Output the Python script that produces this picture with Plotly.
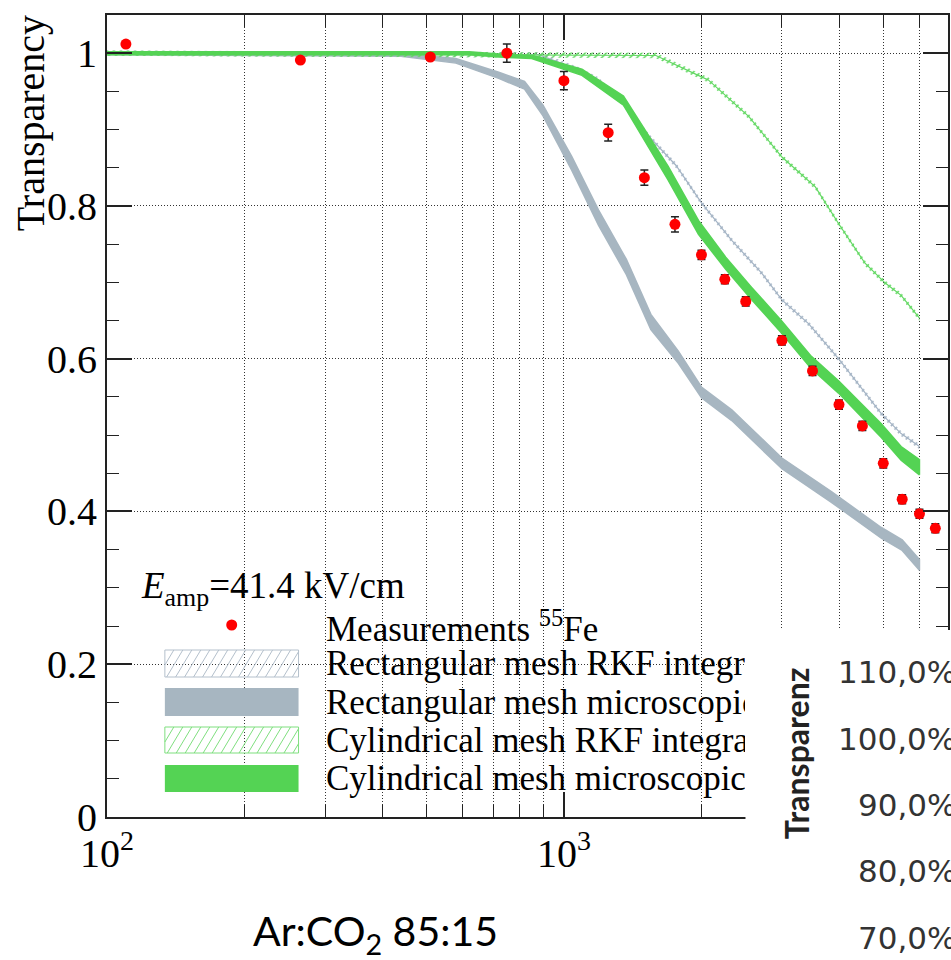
import plotly.graph_objects as go

# ---------------- data ----------------
meas_x = [110, 265, 510, 750, 1000, 1250, 1500, 1750, 2000, 2250, 2500, 3000,
          3500, 4000, 4500, 5000, 5500, 6000, 6500]
meas_y = [1.012, 0.991, 0.995, 1.000, 0.964, 0.896, 0.837, 0.776, 0.736, 0.704,
          0.675, 0.624, 0.584, 0.540, 0.512, 0.463, 0.416, 0.397, 0.378]
meas_err = [0, 0, 0, 0.012, 0.012, 0.011, 0.010, 0.010, 0.006, 0.006, 0.006, 0.006,
            0.006, 0.006, 0.006, 0.006, 0.006, 0.006, 0.006]

rect_micro_x = [100, 440, 580, 720, 820, 900, 1040, 1190, 1370, 1550, 1780, 2000,
                2330, 3000, 3850, 4950, 5500, 6000]
rect_micro_y = [1.0, 0.998, 0.99, 0.971, 0.958, 0.925, 0.856, 0.785, 0.72, 0.648,
                0.602, 0.556, 0.526, 0.463, 0.419, 0.372, 0.356, 0.330]
rect_micro_err = [0.002, 0.002, 0.003, 0.004, 0.005, 0.007, 0.009, 0.010, 0.010, 0.010,
                  0.008, 0.007, 0.007, 0.007, 0.007, 0.007, 0.007, 0.007]

cyl_micro_x = [100, 620, 720, 850, 895, 1095, 1350, 1480, 1690, 1970, 2260, 2570,
               3000, 3480, 3990, 4950, 5470, 6000]
cyl_micro_y = [1.0, 1.0, 0.997, 0.995, 0.991, 0.975, 0.938, 0.899, 0.843, 0.772,
               0.725, 0.686, 0.641, 0.595, 0.563, 0.506, 0.476, 0.458]
cyl_micro_err = [0.002, 0.002, 0.002, 0.002, 0.003, 0.004, 0.006, 0.008, 0.009, 0.009,
                 0.008, 0.008, 0.008, 0.008, 0.008, 0.009, 0.009, 0.010]

rect_rkf_x = [100, 880, 1080, 1190, 1350, 1530, 1760, 2000, 2330, 2710, 3000, 3430,
              3990, 4950, 5470, 6000]
rect_rkf_y = [1.0, 0.998, 0.978, 0.965, 0.934, 0.892, 0.853, 0.804, 0.755, 0.712,
              0.677, 0.646, 0.600, 0.528, 0.502, 0.485]

cyl_rkf_x = [100, 1590, 2000, 2070, 2540, 3000, 3550, 3990, 4560, 5050, 5470, 6000]
cyl_rkf_y = [1.0, 0.997, 0.969, 0.965, 0.917, 0.864, 0.825, 0.777, 0.725, 0.699,
             0.683, 0.653]

x_tickvals = [100, 1000]
x_ticktext = ["10<sup>2</sup>", "10<sup>3</sup>"]
x_minor = [200, 300, 400, 500, 600, 700, 800, 900, 2000, 3000, 4000, 5000, 6000, 7000]

legend_labels = ["Measurements <sup>55</sup>Fe",
                 "Rectangular mesh RKF integration",
                 "Rectangular mesh microscopic tracking",
                 "Cylindrical mesh RKF integration",
                 "Cylindrical mesh microscopic tracking"]
field_label = "<i>E</i><sub>amp</sub>=41.4 kV/cm"
gas_label = "Ar:CO<sub>2</sub> 85:15"
second_title = "<b>Transparenz</b>"
second_ticks = ["110,0%", "100,0%", "90,0%", "80,0%", "70,0%"]

# ---------------- styles ----------------
RED = "#ff0000"
GRAY_SOLID = "#a7b6c1"
GRAY_HATCH = "#a3b3c4"
GREEN_SOLID = "#54d354"
GREEN_HATCH = "#62d862"
SERIF = "Liberation Serif"
SANS = "Lato"

W, H = 951, 960
ML, MR, MT, MB = 107, 1, 15, 143
PW, PH = W - ML - MR, H - MT - MB


def px(xp):
    return (xp - ML) / PW


def py(yp):
    return (H - MB - yp) / PH


fig = go.Figure()


def hatched_band(xs, ys, color, hw):
    up = [v + hw for v in ys]
    lo = [v - hw for v in ys]
    fig.add_trace(go.Scatter(
        x=list(xs) + list(xs)[::-1], y=up + lo[::-1], mode="lines",
        fill="toself", fillcolor="rgba(0,0,0,0)", line=dict(width=0),
        fillpattern=dict(shape="/", fgcolor=color, bgcolor="rgba(0,0,0,0)",
                         size=5, solidity=0.3, fillmode="replace"),
        hoverinfo="skip", showlegend=False))
    fig.add_trace(go.Scatter(x=xs, y=ys, mode="lines",
                             line=dict(color=color, width=1.2),
                             hoverinfo="skip", showlegend=False))


def solid_band(xs, ys, errs, color):
    up = [v + e for v, e in zip(ys, errs)]
    lo = [v - e for v, e in zip(ys, errs)]
    fig.add_trace(go.Scatter(
        x=list(xs) + list(xs)[::-1], y=up + lo[::-1], mode="lines",
        fill="toself", fillcolor=color, line=dict(width=1.5, color=color),
        hoverinfo="skip", showlegend=False))


hatched_band(rect_rkf_x, rect_rkf_y, GRAY_HATCH, 0.0035)
solid_band(rect_micro_x, rect_micro_y, rect_micro_err, GRAY_SOLID)
hatched_band(cyl_rkf_x, cyl_rkf_y, GREEN_HATCH, 0.0035)
solid_band(cyl_micro_x, cyl_micro_y, cyl_micro_err, GREEN_SOLID)
fig.add_trace(go.Scatter(
    x=meas_x, y=meas_y, mode="markers",
    marker=dict(color=RED, size=11, line=dict(width=0)),
    error_y=dict(type="data", array=meas_err, color="#222", thickness=1.5, width=4),
    showlegend=False))

# ---------------- axes ----------------
axis_common = dict(showline=True, linecolor="#222", linewidth=2, mirror="allticks",
                   ticks="inside", tickcolor="#222", tickwidth=1.5, ticklen=25,
                   showgrid=True, gridcolor="#333", gridwidth=1, griddash="1px,2px",
                   zeroline=False, tickfont=dict(family=SERIF, size=40, color="black"))

fig.update_xaxes(type="log", range=[2, 2 + (PW) / 458.0], tickmode="array",
                 tickvals=x_tickvals, ticktext=x_ticktext,
                 minor=dict(tickmode="array", tickvals=x_minor, ticklen=12, ticks="inside",
                            tickcolor="#222", tickwidth=1.2, showgrid=True,
                            gridcolor="#333", gridwidth=1, griddash="1px,2px"),
                 **axis_common)
fig.update_yaxes(range=[0, 1.05], dtick=0.2, tick0=0,
                 minor=dict(dtick=0.05, ticklen=12, ticks="inside", tickcolor="#222",
                            tickwidth=1.2, showgrid=False),
                 **axis_common)

shapes = []
annotations = []

# legend background (covers gridlines)
shapes.append(dict(type="rect", xref="paper", yref="paper", x0=px(134), x1=px(910),
                   y0=py(797), y1=py(567), fillcolor="white", line=dict(width=0),
                   layer="between"))

# legend marker
shapes.append(dict(type="circle", xref="paper", yref="paper", x0=px(226.5), x1=px(237.5),
                   y0=py(630.5), y1=py(619.5), fillcolor=RED, line=dict(width=0),
                   layer="above"))

patch_rows = [(650, 677), (688, 716), (727, 753), (765, 792)]
patch_style = [("hatch", "#b4c0cc"), ("solid", GRAY_SOLID),
               ("hatch", "#7fdf7f"), ("solid", GREEN_SOLID)]
PX0, PX1 = 165, 299
for (ya, yb), (kind, col) in zip(patch_rows, patch_style):
    if kind == "solid":
        shapes.append(dict(type="rect", xref="paper", yref="paper", x0=px(PX0), x1=px(PX1),
                           y0=py(yb), y1=py(ya), fillcolor=col, line=dict(width=0),
                           layer="above"))
    else:
        h = yb - ya
        slant = 0.6 * h
        segs = []
        start = PX0 - slant
        k = 0
        while True:
            xb = start + 9 * k
            if xb > PX1:
                break
            xt = xb + slant
            x0s, y0s, x1s, y1s = xb, yb, xt, ya
            if x0s < PX0:
                t = (PX0 - x0s) / slant
                x0s, y0s = PX0, yb - t * h
            if x1s > PX1:
                t = (x1s - PX1) / slant
                x1s, y1s = PX1, ya + t * h
            if x1s > x0s:
                segs.append("M%.5f,%.5f L%.5f,%.5f" % (px(x0s), py(y0s), px(x1s), py(y1s)))
            k += 1
        shapes.append(dict(type="path", xref="paper", yref="paper", path=" ".join(segs),
                           line=dict(color=col, width=1), layer="above"))
        shapes.append(dict(type="rect", xref="paper", yref="paper", x0=px(PX0), x1=px(PX1),
                           y0=py(yb), y1=py(ya), fillcolor="rgba(0,0,0,0)",
                           line=dict(color=col, width=1), layer="above"))

# overlay of the neighbouring chart
shapes.append(dict(type="rect", xref="paper", yref="paper", x0=px(747), x1=px(980),
                   y0=py(990), y1=py(630), fillcolor="white", line=dict(width=0),
                   layer="above"))

annotations.append(dict(text="Transparency", xref="paper", yref="paper", x=px(30), y=py(123),
                        textangle=-90, showarrow=False, xanchor="center", yanchor="middle",
                        font=dict(family=SERIF, size=40, color="black")))
annotations.append(dict(text=field_label, xref="paper", yref="paper", x=px(139), y=py(588),
                        showarrow=False, xanchor="left", yanchor="middle",
                        font=dict(family=SERIF, size=37, color="black")))
row_centers = [626, 663, 702, 740, 778]
for lab, yc in zip(legend_labels, row_centers):
    annotations.append(dict(text=lab, xref="paper", yref="paper", x=px(326), y=py(yc),
                            showarrow=False, xanchor="left", yanchor="middle", align="left",
                            width=419, borderpad=0,
                            font=dict(family=SERIF, size=35, color="black")))

annotations.append(dict(text=gas_label, xref="paper", yref="paper", x=px(376), y=py(933),
                        showarrow=False, xanchor="center", yanchor="middle",
                        font=dict(family=SANS, size=41, color="black")))
annotations.append(dict(text=second_title, xref="paper", yref="paper", x=px(798), y=py(753),
                        textangle=-90, showarrow=False, xanchor="center", yanchor="middle",
                        font=dict(family=SANS, size=32, color="#222")))
for i, t in enumerate(second_ticks):
    annotations.append(dict(text=t, xref="paper", yref="paper", x=px(960), y=py(672 + 66.5 * i),
                            showarrow=False, xanchor="right", yanchor="middle",
                            font=dict(family="DejaVu Sans", size=31, color="#333")))

fig.update_layout(width=W, height=H, margin=dict(l=ML, r=MR, t=MT, b=MB),
                  paper_bgcolor="white", plot_bgcolor="white",
                  shapes=shapes, annotations=annotations, showlegend=False)

fig.write_html("out.html")
